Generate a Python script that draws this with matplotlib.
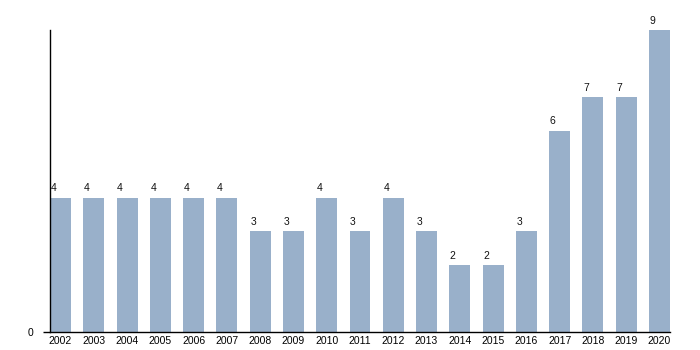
import matplotlib.pyplot as plt
import numpy as np

plt.rcParams['font.family'] = ['Liberation Sans', 'DejaVu Sans']

years = ['2002', '2003', '2004', '2005', '2006', '2007', '2008', '2009', '2010', '2011',
         '2012', '2013', '2014', '2015', '2016', '2017', '2018', '2019', '2020']
counts = [4, 4, 4, 4, 4, 4, 3, 3, 4, 3, 4, 3, 2, 2, 3, 6, 7, 7, 9]

fig = plt.figure(figsize=(7, 3.5), dpi=100)
ax = fig.add_axes([50 / 700, 18 / 350, 620 / 700, 302 / 350])

w = 0.63
x = np.arange(len(years))
ax.bar(x, counts, width=w, color='#99b0ca')

for xi, c in zip(x, counts):
    ax.text(xi - 0.21, c + 0.13, str(c), ha='center', va='bottom', fontsize=7.5, color='#111111')

ax.set_xlim(-w / 2, len(years) - 1 + w / 2)
ax.set_ylim(0, 9)
ax.set_xticks(x)
ax.set_xticklabels(years, fontsize=7.5)
ax.set_yticks([0])
ax.set_yticklabels(['0'], fontsize=7.5)
ax.tick_params(axis='x', length=0, pad=3)
ax.tick_params(axis='y', length=5, width=1, pad=7)

for s in ['top', 'right']:
    ax.spines[s].set_visible(False)
ax.spines['left'].set_linewidth(1)
ax.spines['bottom'].set_linewidth(1)

plt.savefig('out.png', dpi=100)
